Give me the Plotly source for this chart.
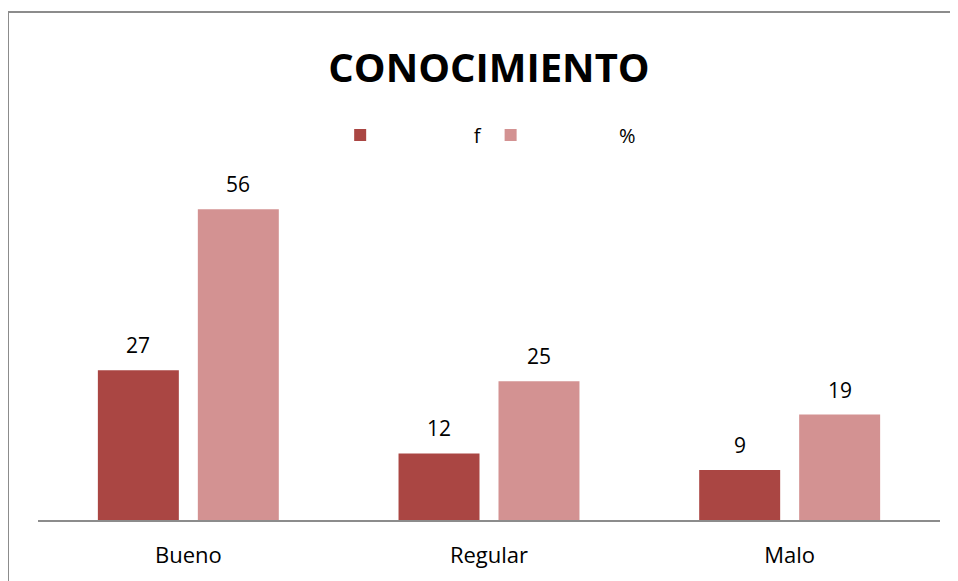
import plotly.graph_objects as go

categories = ["Bueno", "Regular", "Malo"]
f_values = [27, 12, 9]
pct_values = [56, 25, 19]
series_names = ["f", "%"]

FONT = "Open Sans"
NB = "\u00a0"

W, H = 950, 573
ML, MR, MT, MB = 30, 18, 179, 61
BARGAP, GROUPGAP = 0.335, 0.19
plot_w = W - ML - MR
slot_px = plot_w / len(categories) * (1 - BARGAP) / 2

fig = go.Figure()
fig.add_trace(go.Bar(x=categories, y=f_values, name=NB * 18 + series_names[0] + NB,
                     marker=dict(color="#AA4643", line=dict(width=0))))
fig.add_trace(go.Bar(x=categories, y=pct_values, name=NB * 17 + series_names[1],
                     marker=dict(color="#D39292", line=dict(width=0))))

annotations = []
for vals, sign in ((f_values, -1), (pct_values, 1)):
    for c, v in zip(categories, vals):
        annotations.append(dict(x=c, y=v, xref="x", yref="y", text=str(v),
                                showarrow=False, xshift=sign * slot_px / 2, yshift=25,
                                yanchor="middle",
                                font=dict(size=21, family=FONT, color="#000000")))

fig.update_layout(
    width=W, height=H,
    margin=dict(l=ML, r=MR, t=MT, b=MB),
    paper_bgcolor="white", plot_bgcolor="white",
    barmode="group", bargap=BARGAP, bargroupgap=GROUPGAP,
    font=dict(family=FONT, color="#000000"),
    title=dict(text="<b>CONOCIMIENTO</b>", x=0.5, xref="paper", xanchor="center",
               y=1 - 60 / H, yref="container", yanchor="middle",
               font=dict(size=40, family=FONT, color="#000000")),
    legend=dict(orientation="h", x=0.335, xanchor="left", y=1.156, yanchor="middle",
                font=dict(size=20, family=FONT, color="#000000"),
                bgcolor="rgba(0,0,0,0)", traceorder="normal"),
    xaxis=dict(showline=True, linecolor="#8c8c8c", linewidth=2, ticks="",
               tickfont=dict(size=22, family=FONT, color="#000000"), showgrid=False,
               zeroline=False, ticklabelstandoff=15),
    yaxis=dict(range=[0, 60], visible=False, showgrid=False, zeroline=False),
    annotations=annotations,
    shapes=[
        dict(type="line", xref="paper", yref="paper", x0=-ML / plot_w, x1=-ML / plot_w,
             y0=-0.3, y1=1.5255, line=dict(color="#8c8c8c", width=2)),
        dict(type="line", xref="paper", yref="paper", x0=-ML / plot_w, x1=1.1,
             y0=1.5255, y1=1.5255, line=dict(color="#8c8c8c", width=2)),
    ],
)

fig.write_html("out.html")
